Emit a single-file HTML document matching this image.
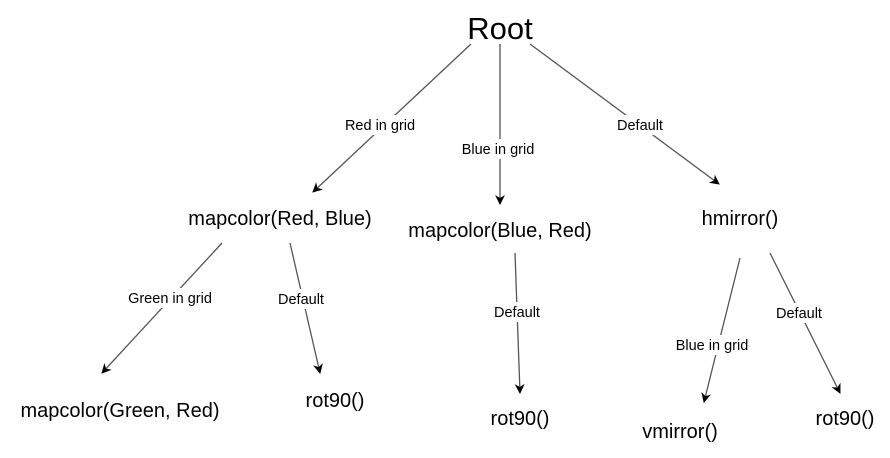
<!DOCTYPE html>
<html><head><style>body{margin:0;background:#fff}</style></head><body>
<svg width="890" height="453" xmlns="http://www.w3.org/2000/svg" font-family="Liberation Sans, Arial, sans-serif">
<defs><marker id="a" markerWidth="10" markerHeight="10" refX="9" refY="5" orient="auto" markerUnits="userSpaceOnUse"><path d="M0,0 L10,5 L0,10 L3,5 z" fill="#000"/></marker></defs>
<g stroke="#555" stroke-width="1.3" fill="none" marker-end="url(#a)">
<line x1="471" y1="44" x2="313" y2="192"/>
<line x1="500" y1="44" x2="500" y2="204"/>
<line x1="530" y1="44" x2="719" y2="184"/>
<line x1="222" y1="243" x2="102" y2="373"/>
<line x1="290" y1="243" x2="320" y2="373"/>
<line x1="515" y1="253" x2="520" y2="393"/>
<line x1="740" y1="258" x2="704" y2="402"/>
<line x1="770" y1="253" x2="840" y2="393"/>
</g>
<g font-size="14.5" text-anchor="middle" fill="#000">
<rect x="336" y="115" width="88" height="20" fill="#fff"/><text x="380" y="130">Red in grid</text>
<rect x="452" y="139" width="94" height="20" fill="#fff"/><text x="498" y="154">Blue in grid</text>
<rect x="608" y="115" width="62" height="20" fill="#fff"/><text x="640" y="130">Default</text>
<rect x="118" y="288" width="104" height="20" fill="#fff"/><text x="170" y="303">Green in grid</text>
<rect x="270" y="289" width="62" height="20" fill="#fff"/><text x="301" y="304">Default</text>
<rect x="486" y="302" width="62" height="20" fill="#fff"/><text x="517" y="317">Default</text>
<rect x="664" y="335" width="96" height="20" fill="#fff"/><text x="712" y="350">Blue in grid</text>
<rect x="768" y="303" width="62" height="20" fill="#fff"/><text x="799" y="318">Default</text>
</g>
<g text-anchor="middle" fill="#000">
<text x="500" y="39" font-size="31">Root</text>
<g font-size="20">
<text x="280" y="225">mapcolor(Red, Blue)</text>
<text x="500" y="237">mapcolor(Blue, Red)</text>
<text x="740" y="225">hmirror()</text>
<text x="120" y="417">mapcolor(Green, Red)</text>
<text x="335" y="407">rot90()</text>
<text x="520" y="425">rot90()</text>
<text x="680" y="438">vmirror()</text>
<text x="845" y="425">rot90()</text>
</g></g>
</svg>
</body></html>
